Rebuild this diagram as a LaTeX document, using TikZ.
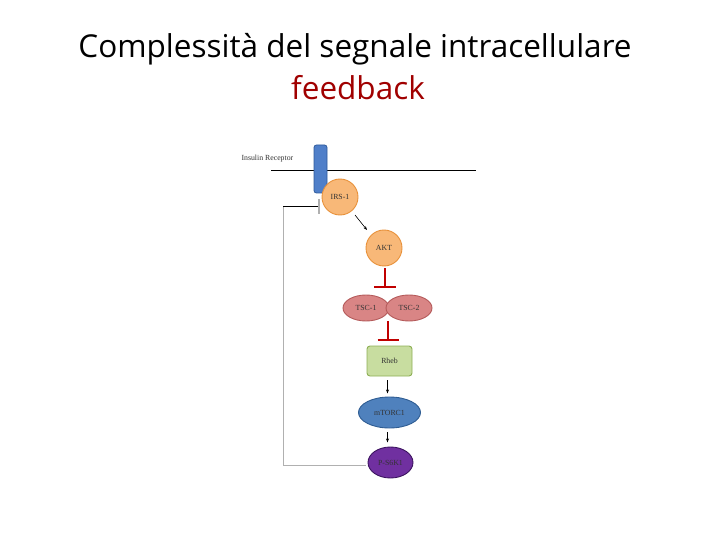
\documentclass[tikz,border=0pt]{standalone}
\usepackage{fontspec}
\setmainfont{Liberation Serif}
\newfontfamily\titlefont{Open Sans}
\usetikzlibrary{shapes.geometric,arrows.meta}
\definecolor{irsfill}{HTML}{F8B878}
\definecolor{irsdraw}{HTML}{E8913A}
\definecolor{recfill}{HTML}{4F7FC9}
\definecolor{recdraw}{HTML}{2D5A9A}
\definecolor{tscfill}{HTML}{D98585}
\definecolor{tscdraw}{HTML}{B45A5A}
\definecolor{rhebfill}{HTML}{C8DDA0}
\definecolor{rhebdraw}{HTML}{8DAF55}
\definecolor{mtfill}{HTML}{4F81BD}
\definecolor{mtdraw}{HTML}{2E5C92}
\definecolor{s6fill}{HTML}{7030A0}
\definecolor{s6draw}{HTML}{3C1460}
\definecolor{inhred}{HTML}{C00000}
\definecolor{fbred}{HTML}{A00000}
\definecolor{fbgray}{HTML}{B0B0B0}
\tikzset{
  lbl/.style={font=\fontsize{7.8}{9}\selectfont, text=black!80},
  protein/.style={ellipse, line width=0.9pt, inner sep=0pt, lbl},
  act/.style={-{Stealth[length=4pt,width=3pt]}, line width=0.6pt},
  inh/.style={line width=1.6pt, draw=inhred},
  ttl/.style={font=\titlefont\fontsize{31.5}{36}\selectfont},
}
\begin{document}
\begin{tikzpicture}[x=1pt,y=-1pt]
\useasboundingbox (0,0) rectangle (720,540);
% titles
\node[ttl, text=black] (t1) at (355,49) {Complessità del segnale intracellulare};
\node[ttl, text=fbred] (t2) at (358,88) {feedback};
% membrane
\coordinate (m1) at (271,171);
\coordinate (m2) at (476,171);
\draw[line width=1pt] (m1) -- (m2);
\node[lbl, anchor=west] (ir) at (238,159) {Insulin Receptor};
% receptor
\node[draw=recdraw, fill=recfill, rounded corners=2.5pt, minimum width=13pt, minimum height=48pt, inner sep=0pt, line width=0.8pt] (rec) at (320.5,169) {};
% proteins
\node[protein, draw=irsdraw, fill=irsfill, minimum width=36pt, minimum height=36pt] (irs) at (340,197) {IRS-1};
\node[protein, draw=irsdraw, fill=irsfill, minimum width=36pt, minimum height=36pt] (akt) at (384,248) {AKT};
\node[protein, draw=tscdraw, fill=tscfill, minimum width=46pt, minimum height=26pt] (tsc1) at (366,308) {TSC-1};
\node[protein, draw=tscdraw, fill=tscfill, minimum width=46pt, minimum height=26pt] (tsc2) at (409,308) {TSC-2};
\node[draw=rhebdraw, fill=rhebfill, rounded corners=3pt, line width=0.9pt, minimum width=45pt, minimum height=30pt, inner sep=0pt, lbl] (rheb) at (389.5,361) {Rheb};
\node[protein, draw=mtdraw, fill=mtfill, minimum width=62pt, minimum height=31pt] (mt) at (389.5,412.5) {mTORC1};
\node[protein, draw=s6draw, fill=s6fill, minimum width=45pt, minimum height=31pt] (s6) at (390.5,462.5) {P-S6K1};
% activation arrows
\draw[act] (355,215) -- (367,230);
\draw[act] (rheb.south) ++(-2,4) coordinate (a1) -- ++(0,13);
\draw[act] (mt.south) ++(-2,4) coordinate (a2) -- ++(0,10);
% inhibitions
\coordinate (i1a) at (385,268);
\coordinate (i1b) at (385,287);
\draw[inh] (i1a) -- (i1b);
\draw[inh] (374,287) -- (396,287);
\coordinate (i2a) at (388,321);
\coordinate (i2b) at (388,340);
\draw[inh] (i2a) -- (i2b);
\draw[inh] (377.5,340) -- (399,340);
% feedback
\coordinate (f0) at (366,465);
\coordinate (f1) at (283,465);
\coordinate (f2) at (283,206);
\coordinate (f3) at (318,206);
\draw[fbgray, line width=0.8pt] (f0) -- (f1) -- (f2);
\draw[black, line width=0.8pt] (f2) -- (f3);
\draw[fbgray, line width=1.2pt] (319,199) -- (319,214);
\end{tikzpicture}
\end{document}
